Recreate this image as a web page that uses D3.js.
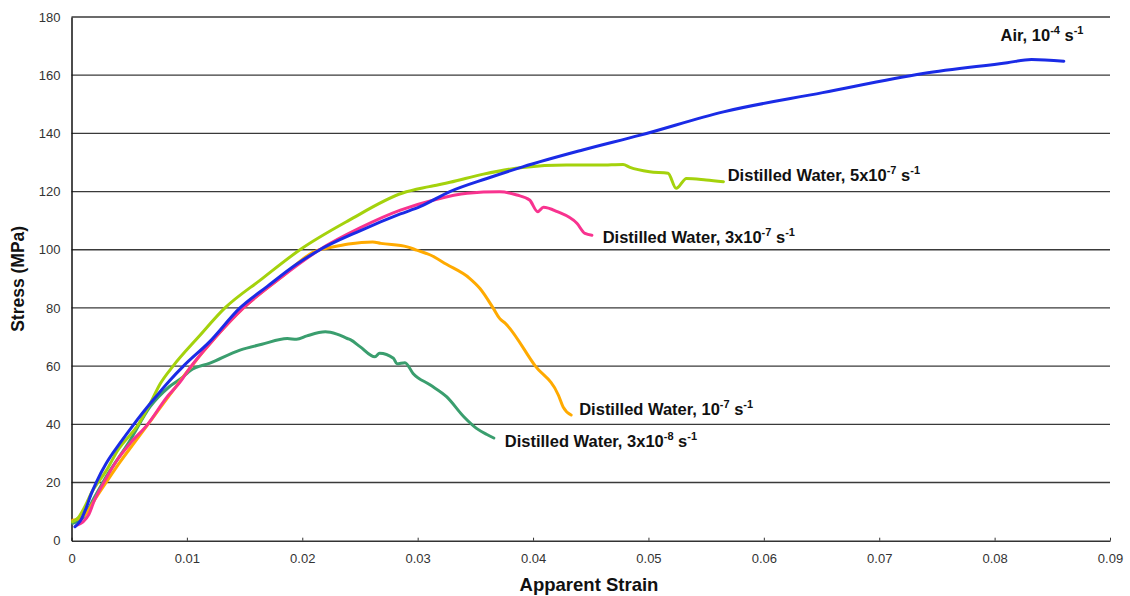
<!DOCTYPE html>
<html><head><meta charset="utf-8">
<script src="https://cdn.jsdelivr.net/npm/d3@7"></script>
<style>body{margin:0;background:#fff}svg{display:block}</style>
</head><body><svg id="c" width="1130" height="596"></svg>
<script>
const xTicks = [0,0.01,0.02,0.03,0.04,0.05,0.06,0.07,0.08,0.09];
const yTicks = [0,20,40,60,80,100,120,140,160,180];

const airData = [[0.0003,4.8],[0.0008,7],[0.0012,10.5],[0.0017,16],[0.0022,20.5],[0.003,26.5],[0.0042,33.5],[0.0054,40],[0.007,48],[0.0085,55],[0.0097,60],[0.012,68.5],[0.0146,80],[0.017,87.5],[0.0195,95],[0.0213,99.5],[0.025,106.5],[0.0285,112.3],[0.0302,114.8],[0.0328,120],[0.036,124.5],[0.0391,128.5],[0.0443,134.3],[0.0493,139.4],[0.0565,147.4],[0.0651,154],[0.0738,160.6],[0.0811,164.3],[0.0832,165.4],[0.086,164.8]];

const dw5e7 = [[0.0001,6.5],[0.0006,8],[0.0012,12],[0.0018,17],[0.0023,20],[0.003,24],[0.004,31],[0.0058,40],[0.0068,47],[0.0077,54],[0.0088,60],[0.011,70],[0.0133,80],[0.0165,90],[0.0198,100],[0.024,110],[0.0287,119.5],[0.031,121.7],[0.0328,123.2],[0.0357,126],[0.0391,128.3],[0.0429,129.1],[0.0458,129.1],[0.0478,129.3],[0.0484,128.3],[0.0501,126.8],[0.0517,126.3],[0.0524,121.1],[0.0533,124.5],[0.055,124],[0.0565,123.4]];

const dw3e7 = [[0.0005,5.4],[0.001,6.5],[0.0015,9],[0.002,14],[0.0028,20],[0.004,28],[0.0052,34],[0.0066,40],[0.0082,49],[0.0095,55],[0.0101,58.5],[0.0125,70],[0.0149,80],[0.018,90],[0.0215,100],[0.025,107.5],[0.0285,113.6],[0.0314,117.1],[0.0343,119.4],[0.0371,119.9],[0.0386,118.8],[0.0397,117.1],[0.0404,113.1],[0.0409,114.6],[0.0421,113.1],[0.0438,109.1],[0.0445,105.6],[0.0451,105]];

const dw1e7 = [[0.0001,7],[0.0006,7.5],[0.0012,9],[0.002,14],[0.003,20],[0.0042,27],[0.0055,34],[0.007,42],[0.0085,50],[0.0101,58.5],[0.0125,70],[0.0149,80],[0.018,90],[0.0215,100],[0.0221,100.5],[0.024,102],[0.0261,102.7],[0.0268,102.2],[0.0291,101],[0.0299,99.9],[0.0311,98.2],[0.0325,95],[0.0345,90.2],[0.0354,86.7],[0.0366,79.6],[0.0371,76.4],[0.0376,74.7],[0.0402,60],[0.0422,50],[0.0426,46],[0.0433,43.2]];

const dw3e8 = [[0.0001,6],[0.001,8],[0.002,15],[0.003,22],[0.005,34],[0.0068,46],[0.0085,53],[0.0097,56.4],[0.0103,58.5],[0.012,61],[0.0146,65.5],[0.0165,67.5],[0.0187,69.5],[0.0195,69.2],[0.0204,70.4],[0.022,71.8],[0.023,71],[0.0239,69.5],[0.0242,69],[0.025,66.7],[0.0263,63.2],[0.0267,64.4],[0.0279,62.7],[0.0282,60.8],[0.0289,61.2],[0.0296,57.5],[0.0311,53.5],[0.0325,49.5],[0.034,42.6],[0.0351,38.6],[0.036,36.5],[0.0366,35.3]];

const series = [
  {data: dw3e8, color: "#3a9e6e", label: ["Distilled Water, 3x10","-8"," s","-1"], lx: 0.03755, ly: 32.2},
  {data: dw1e7, color: "#ffaa00", label: ["Distilled Water, 10","-7"," s","-1"], lx: 0.04400, ly: 43.2},
  {data: dw3e7, color: "#f8338f", label: ["Distilled Water, 3x10","-7"," s","-1"], lx: 0.04603, ly: 102.3},
  {data: dw5e7, color: "#a4d20c", label: ["Distilled Water, 5x10","-7"," s","-1"], lx: 0.05687, ly: 123.6},
  {data: airData, color: "#1a2be6", label: ["Air, 10","-4"," s","-1"], lx: 0.08052, ly: 171.7}
];

const W = 1130, H = 596;
const L = 71.5, R = 1110, T = 17, B = 540.7;
const svg = d3.select("#c");
const x = d3.scaleLinear().domain([0,0.09]).range([L,R]);
const y = d3.scaleLinear().domain([0,180]).range([B,T]);

// gridlines
svg.append("g").selectAll("line").data(yTicks.filter(d=>d>0)).join("line")
  .attr("x1",L).attr("x2",R).attr("y1",d=>y(d)).attr("y2",d=>y(d))
  .attr("stroke","#3a3a3a").attr("stroke-width",1.3);

// x axis
const xg = svg.append("g").attr("transform",`translate(0,${B})`)
  .call(d3.axisBottom(x).tickValues(xTicks).tickFormat(d=>d===0?"0":d3.format(".2f")(d)).tickSizeInner(-3).tickSizeOuter(0).tickPadding(13));
xg.select(".domain").attr("stroke","#333").attr("stroke-width",1.5);
xg.selectAll(".tick line").attr("stroke","#333").attr("stroke-width",1);
xg.selectAll("text").attr("font-family","Liberation Sans, Arial, sans-serif").attr("font-size",13).attr("fill","#333");

// y axis
const yg = svg.append("g").attr("transform",`translate(${L},0)`)
  .call(d3.axisLeft(y).tickValues(yTicks).tickSize(0).tickPadding(11));
yg.select(".domain").attr("stroke","#111").attr("stroke-width",1.5);
yg.selectAll("text").attr("font-family","Liberation Sans, Arial, sans-serif").attr("font-size",13).attr("fill","#333");

// lines
const line = d3.line().x(d=>x(d[0])).y(d=>y(d[1])).curve(d3.curveMonotoneX);
svg.append("g").selectAll("path").data(series).join("path")
  .attr("d",d=>line(d.data)).attr("fill","none").attr("stroke",d=>d.color)
  .attr("stroke-width",3).attr("stroke-linejoin","round").attr("stroke-linecap","round");

// labels
const lg = svg.append("g").attr("font-family","Liberation Sans, Arial, sans-serif").attr("font-weight","bold").attr("fill","#111");
series.forEach(s=>{
  const t = lg.append("text").attr("x",x(s.lx)).attr("y",y(s.ly)).attr("font-size",16.5);
  t.append("tspan").text(s.label[0]);
  t.append("tspan").text(s.label[1]).attr("font-size",11).attr("dy",-7);
  t.append("tspan").text(s.label[2]).attr("dy",7);
  t.append("tspan").text(s.label[3]).attr("font-size",11).attr("dy",-7);
});

// axis titles
svg.append("text").attr("x",589).attr("y",591).attr("text-anchor","middle")
  .attr("font-family","Liberation Sans, Arial, sans-serif").attr("font-weight","bold").attr("font-size",18.5).attr("fill","#111")
  .text("Apparent Strain");
svg.append("text").attr("transform",`translate(24,${(T+B)/2}) rotate(-90)`).attr("text-anchor","middle")
  .attr("font-family","Liberation Sans, Arial, sans-serif").attr("font-weight","bold").attr("font-size",17.5).attr("fill","#111")
  .text("Stress (MPa)");
</script></body></html>
